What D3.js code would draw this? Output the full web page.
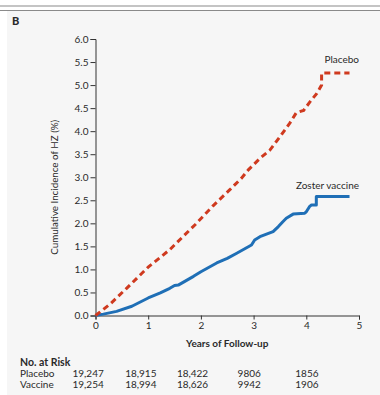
<!DOCTYPE html>
<html>
<head>
<meta charset="utf-8">
<script src="https://cdn.jsdelivr.net/npm/d3@7"></script>
<style>
  html, body { margin: 0; padding: 0; background: #ffffff; }
  svg { display: block; }
  text { font-family: Lato, "Open Sans", sans-serif; fill: #2a2a2a; }
</style>
</head>
<body>
<svg id="chart" width="380" height="395"></svg>
<script>
// Cumulative incidence of herpes zoster (%), by years of follow-up
const placeboYears = [0, 0.28, 0.59, 1.0, 1.41, 1.89, 2.23, 2.55, 2.77, 2.9, 3.12, 3.31, 3.5, 3.69, 3.81, 3.95, 4.0, 4.1, 4.2, 4.29, 4.29, 4.82];
const placeboPct   = [0, 0.25, 0.59, 1.05, 1.43, 1.97, 2.38, 2.73, 2.98, 3.16, 3.41, 3.59, 3.88, 4.18, 4.4, 4.45, 4.53, 4.68, 4.82, 5.0, 5.26, 5.26];

const vaccineYears = [0, 0.15, 0.4, 0.69, 1.0, 1.23, 1.41, 1.5, 1.57, 1.86, 2.0, 2.3, 2.5, 2.68, 2.96, 3.02, 3.12, 3.37, 3.47, 3.55, 3.62, 3.75, 3.97, 4.0, 4.06, 4.1, 4.19, 4.19, 4.82];
const vaccinePct   = [0, 0.03, 0.09, 0.2, 0.38, 0.49, 0.59, 0.65, 0.66, 0.85, 0.95, 1.14, 1.24, 1.35, 1.53, 1.64, 1.71, 1.82, 1.93, 2.03, 2.11, 2.2, 2.22, 2.25, 2.36, 2.4, 2.4, 2.58, 2.58];

const yTicks = [0, 0.5, 1, 1.5, 2, 2.5, 3, 3.5, 4, 4.5, 5, 5.5, 6];
const xTicks = [0, 1, 2, 3, 4, 5];

// Number at risk table
const riskYears   = [0, 1, 2, 3, 4];
const riskPlacebo = ["19,247", "18,915", "18,422", "9806", "1856"];
const riskVaccine = ["19,254", "18,994", "18,626", "9942", "1906"];

const svg = d3.select("#chart");

// panel background and header rules
svg.append("rect").attr("x", 7).attr("y", 11).attr("width", 373).attr("height", 384).attr("fill", "#f6f6f6");
svg.append("rect").attr("x", 0).attr("y", 5).attr("width", 380).attr("height", 2).attr("fill", "#c4c4c4");
svg.append("rect").attr("x", 0).attr("y", 10).attr("width", 380).attr("height", 1).attr("fill", "#8a8a8a");

svg.append("text").attr("x", 12).attr("y", 25)
  .attr("font-size", 11).attr("font-weight", 900).attr("fill", "#222").text("B");

const x = d3.scaleLinear().domain([0, 5]).range([95.5, 359]);
const y = d3.scaleLinear().domain([0, 6]).range([315.5, 39]);

// axes
const yAxis = d3.axisLeft(y).tickValues(yTicks).tickFormat(d3.format(".1f")).tickSize(5).tickPadding(2);
const xAxis = d3.axisBottom(x).tickValues(xTicks).tickFormat(d3.format("d")).tickSize(4).tickPadding(2);

const gy = svg.append("g").attr("transform", `translate(${x(0)},0)`).call(yAxis);
const gx = svg.append("g").attr("transform", `translate(0,${y(0)})`).call(xAxis);
[gy, gx].forEach(g => {
  g.select(".domain").attr("stroke", "#333").attr("stroke-width", 1);
  g.selectAll(".tick line").attr("stroke", "#333");
  g.selectAll(".tick text").attr("font-family", "Lato, sans-serif").attr("font-size", 10).attr("fill", "#2a2a2a");
});

svg.append("text")
  .attr("transform", `translate(58,${(y(0) + y(6)) / 2 + 10}) rotate(-90)`)
  .attr("text-anchor", "middle").attr("font-size", 9.8)
  .text("Cumulative Incidence of HZ (%)");

svg.append("text")
  .attr("x", (x(0) + x(5)) / 2).attr("y", 347)
  .attr("text-anchor", "middle").attr("font-size", 10).attr("font-weight", 700).attr("fill", "#1e1e1e")
  .text("Years of Follow-up");

// curves
const line = d3.line().x(d => x(d[0])).y(d => y(d[1]));
const placebo = placeboYears.map((t, i) => [t, placeboPct[i]]);
const vaccine = vaccineYears.map((t, i) => [t, vaccinePct[i]]);

svg.append("path").datum(vaccine).attr("d", line)
  .attr("fill", "none").attr("stroke", "#1f6fb6").attr("stroke-width", 3)
  .attr("stroke-linejoin", "round");

svg.append("path").datum(placebo).attr("d", line)
  .attr("fill", "none").attr("stroke", "#cf3a1f").attr("stroke-width", 3)
  .attr("stroke-dasharray", "6,4");

// series labels
svg.append("text").attr("x", x(5)).attr("y", y(5.26) - 10)
  .attr("text-anchor", "end").attr("font-size", 10).text("Placebo");
svg.append("text").attr("x", x(5)).attr("y", y(2.58) - 8)
  .attr("text-anchor", "end").attr("font-size", 10).text("Zoster vaccine");

// number at risk
const riskDx = [-23, -23, -24, -16, -11];
svg.append("text").attr("x", 20).attr("y", 366)
  .attr("font-size", 10.5).attr("font-weight", 700).attr("fill", "#1e1e1e").text("No. at Risk");

[["Placebo", riskPlacebo, 377], ["Vaccine", riskVaccine, 388]].forEach(([name, vals, yy]) => {
  svg.append("text").attr("x", 20).attr("y", yy).attr("font-size", 10).text(name);
  svg.selectAll(null).data(vals).enter().append("text")
    .attr("x", (d, i) => x(riskYears[i]) + riskDx[i]).attr("y", yy)
    .attr("font-size", 10).text(d => d);
});
</script>
</body>
</html>
